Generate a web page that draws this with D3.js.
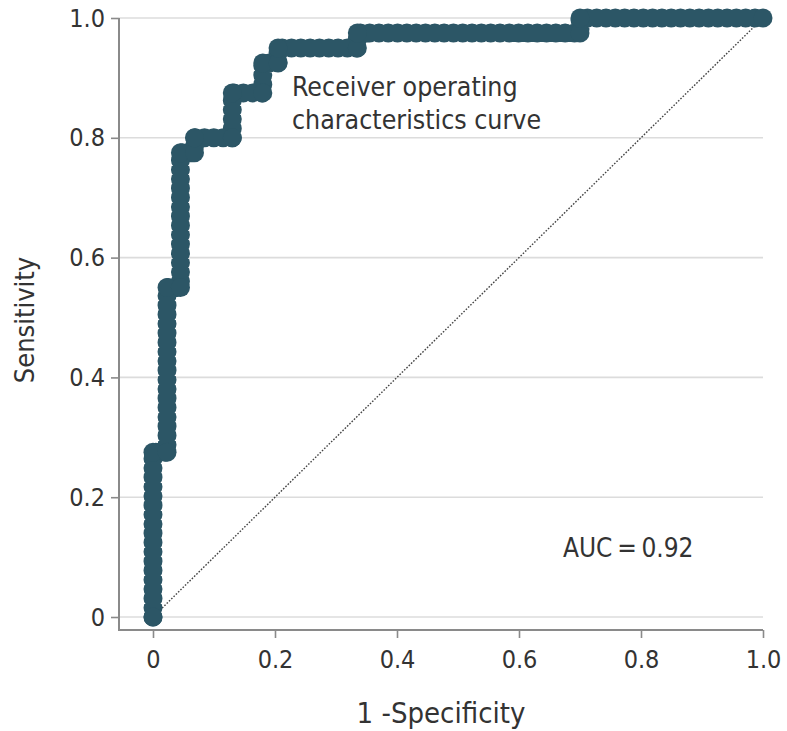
<!DOCTYPE html>
<html>
<head>
<meta charset="utf-8">
<script src="https://cdn.jsdelivr.net/npm/d3@7"></script>
<style>
  body { margin: 0; background: #fff; }
  svg text { font-family: "Liberation Sans Narrow", "DejaVu Sans Condensed", sans-serif; fill: #333; }
</style>
</head>
<body>
<svg id="chart" width="787" height="731"></svg>
<script>
// ROC corners (1 - specificity, sensitivity)
var fpr = [0, 0, 0.023, 0.023, 0.045, 0.045, 0.068, 0.068, 0.13, 0.13, 0.18, 0.18, 0.205, 0.205, 0.335, 0.335, 0.70, 0.70, 1.0];
var tpr = [0, 0.275, 0.275, 0.55, 0.55, 0.775, 0.775, 0.8, 0.8, 0.875, 0.875, 0.925, 0.925, 0.95, 0.95, 0.975, 0.975, 1.0, 1.0];
var tickValues = [0, 0.2, 0.4, 0.6, 0.8, 1.0];
var curveLabel = ["Receiver operating", "characteristics curve"];
var aucLabel = "AUC\u2009=\u20090.92";

var svg = d3.select("#chart");
var curveColor = "#2c5666";

var x = d3.scaleLinear().domain([0, 1]).range([153, 763]);
var y = d3.scaleLinear().domain([0, 1]).range([617, 18]);

var frameLeft = 119, frameBottom = 630;

var fmt = function(d) { return d === 0 ? "0" : d3.format(".1f")(d); };

// gridlines
svg.append("g")
	.selectAll("line")
	.data(tickValues)
	.enter()
	.append("line")
	.attr("x1", frameLeft)
	.attr("x2", x(1))
	.attr("y1", function(d) { return y(d); })
	.attr("y2", function(d) { return y(d); })
	.attr("stroke", "#dcdcdc")
	.attr("stroke-width", 1.6);

// frame (L shape)
svg.append("path")
	.attr("d", "M" + frameLeft + "," + y(1) + "V" + frameBottom + "H" + x(1))
	.attr("fill", "none")
	.attr("stroke", "#8a8a8a")
	.attr("stroke-width", 2);

// Y axis
var yAxis = d3.axisLeft(y).tickValues(tickValues).tickFormat(fmt).tickSize(8).tickPadding(6);
var gy = svg.append("g")
	.attr("transform", "translate(" + frameLeft + ",0)")
	.call(yAxis);
gy.select(".domain").remove();
gy.selectAll(".tick line").attr("stroke", "#8a8a8a").attr("stroke-width", 1.6);
gy.selectAll(".tick text").style("font-size", "25px");

// X axis
var xAxis = d3.axisBottom(x).tickValues(tickValues).tickFormat(fmt).tickSize(8).tickPadding(12);
var gx = svg.append("g")
	.attr("transform", "translate(0," + frameBottom + ")")
	.call(xAxis);
gx.select(".domain").remove();
gx.selectAll(".tick line").attr("stroke", "#8a8a8a").attr("stroke-width", 1.6);
gx.selectAll(".tick text").style("font-size", "25px");

// axis titles
svg.append("text")
	.attr("x", 441)
	.attr("y", 723)
	.attr("text-anchor", "middle")
	.style("font-size", "29px")
	.text("1 -Specificity");

svg.append("text")
	.attr("transform", "translate(34,320)rotate(-90)")
	.attr("text-anchor", "middle")
	.style("font-size", "27px")
	.text("Sensitivity");

// chance diagonal
svg.append("line")
	.attr("x1", x(0)).attr("y1", y(0))
	.attr("x2", x(1)).attr("y2", y(1))
	.attr("stroke", "#444")
	.attr("stroke-width", 1.4)
	.attr("stroke-dasharray", "1.6 1.6");

// ROC curve drawn as a chain of overlapping dots
var pts = fpr.map(function(d, i) { return [d, tpr[i]]; });
var line = d3.line()
	.x(function(d) { return x(d[0]); })
	.y(function(d) { return y(d[1]); });

svg.append("path")
	.datum(pts)
	.attr("d", line)
	.attr("fill", "none")
	.attr("stroke", curveColor)
	.attr("stroke-width", 19)
	.attr("stroke-linecap", "round")
	.attr("stroke-linejoin", "round")
	.attr("stroke-dasharray", "0.01 9.3");

svg.append("g")
	.selectAll("circle")
	.data(pts)
	.enter()
	.append("circle")
	.attr("cx", function(d) { return x(d[0]); })
	.attr("cy", function(d) { return y(d[1]); })
	.attr("r", 9.5)
	.attr("fill", curveColor);

// annotations
var lab = svg.append("text")
	.attr("x", 292)
	.attr("y", 96)
	.style("font-size", "26.5px");
lab.selectAll("tspan")
	.data(curveLabel)
	.enter()
	.append("tspan")
	.attr("x", 292)
	.attr("dy", function(d, i) { return i === 0 ? 0 : 33; })
	.text(function(d) { return d; });

svg.append("text")
	.attr("x", 563)
	.attr("y", 557)
	.style("font-size", "26px")
	.text(aucLabel);
</script>
</body>
</html>
